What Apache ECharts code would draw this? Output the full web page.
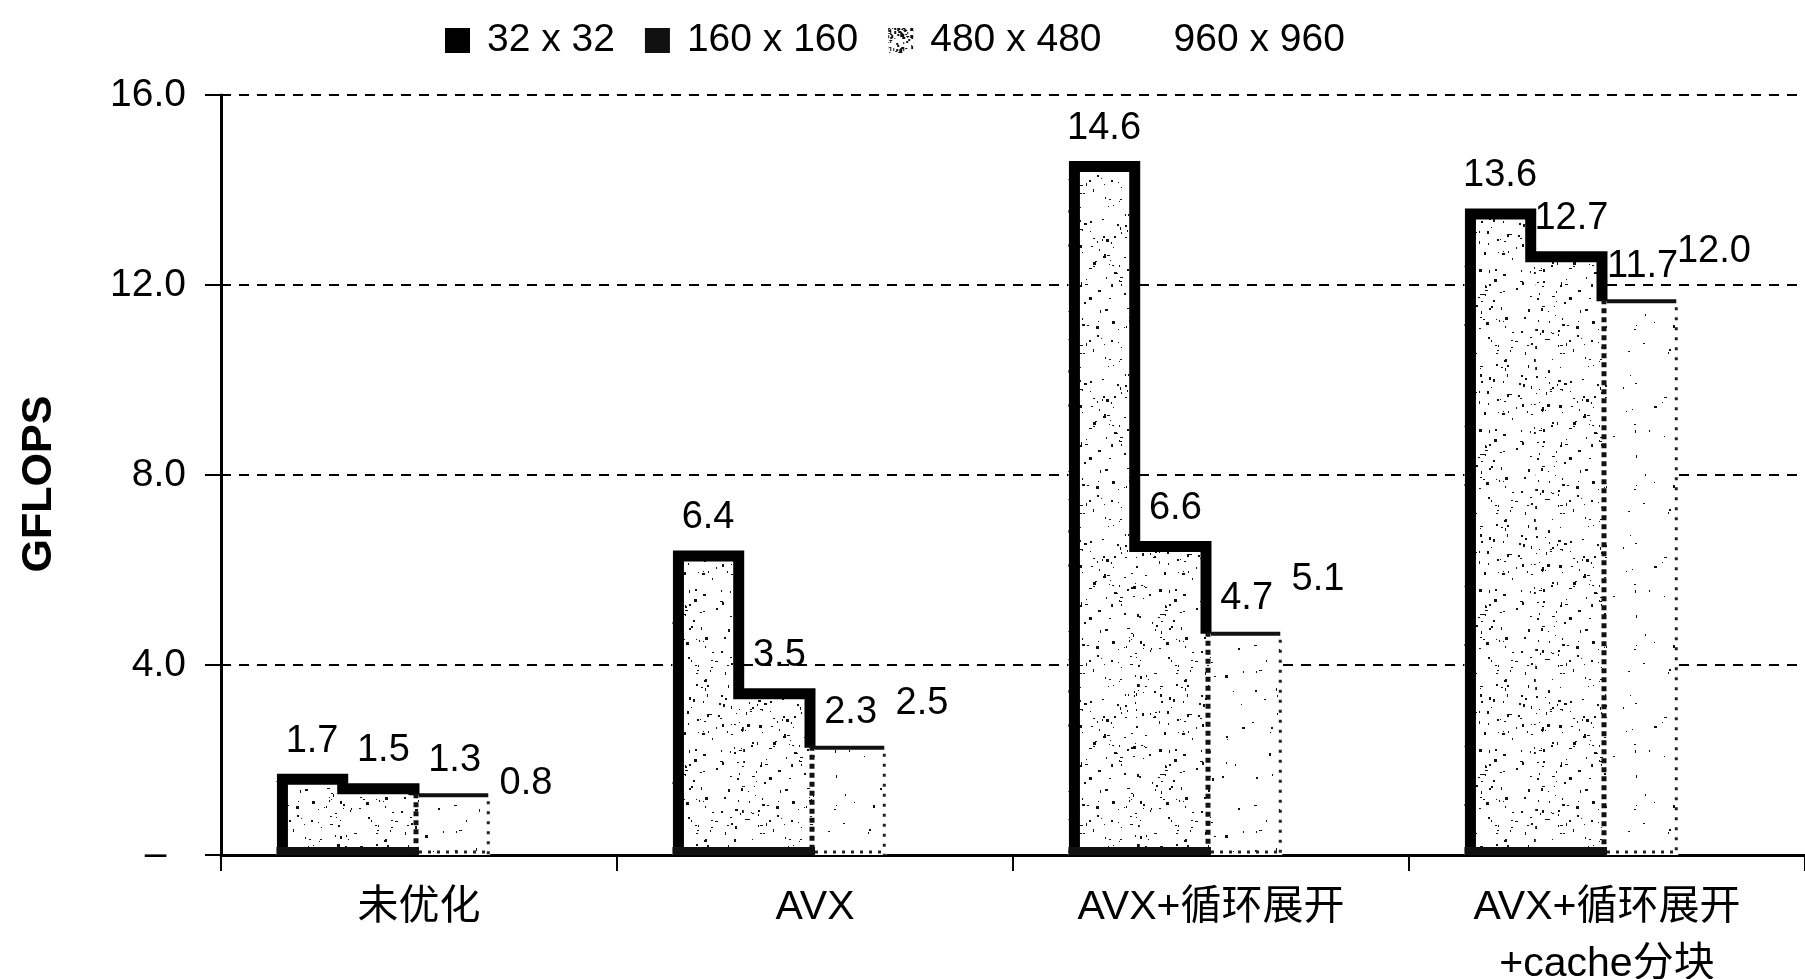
<!DOCTYPE html>
<html>
<head>
<meta charset="utf-8">
<script src="https://cdn.jsdelivr.net/npm/echarts@6/dist/echarts.min.js"></script>
<style>
  html, body { margin: 0; padding: 0; background: #fff; }
  #chart { width: 1805px; height: 979px; }
</style>
</head>
<body>
<div id="chart"></div>
<script>
// Matrix-multiply throughput for each optimisation stage and matrix size
const categories = ['未优化', 'AVX', 'AVX+循环展开', 'AVX+循环展开\n+cache分块'];
const seriesNames = ['32 x 32', '160 x 160', '480 x 480', '960 x 960'];
const gflops32 = [1.7, 6.4, 14.6, 13.6];
const gflops160 = [1.5, 3.5, 6.6, 12.7];
const gflops480 = [1.3, 2.3, 4.7, 11.7];
const gflops960 = [0.8, 2.5, 5.1, 12.0];
const yTicks = [0, 4, 8, 12, 16];

const FONT = '"Liberation Sans", Arial, "Noto Sans CJK SC", sans-serif';
const CAT_GAP = 0.28;        // share of each category left empty around the bars
const BARS_PER_CAT = 4;

// Stipple texture for the bar fills: seeded dot layout so every render is identical
function stipple(size, count, seed) {
  let s = seed;
  const next = () => (s = (s * 1103515245 + 12345) & 0x7fffffff) / 0x7fffffff;
  const c = document.createElement('canvas');
  c.width = size; c.height = size;
  const g = c.getContext('2d');
  g.fillStyle = '#fff';
  g.fillRect(0, 0, size, size);
  g.fillStyle = '#111';
  for (let i = 0; i < count; i++) {
    const x = Math.floor(next() * size);
    const y = Math.floor(next() * size);
    const w = 1 + Math.floor(next() * 2.4);
    const h = 1 + Math.floor(next() * 2.4);
    g.fillRect(x, y, w, h);
  }
  return { image: c, repeat: 'repeat' };
}
const denseFill = stipple(160, 300, 7);
const sparseFill = stipple(160, 55, 19);

const labelStyle = {
  show: true,
  position: 'top',
  distance: 14,
  color: '#000',
  fontFamily: FONT,
  fontSize: 38,
  formatter: p => p.value.toFixed(1)
};

// Rows for the outline layer: [category index, 32, 160, 480]
const outlineRows = categories.map((_, i) => [i, gflops32[i], gflops160[i], gflops480[i]]);

// Heavy step outline around the 32/160 pair and the lighter frame of the 480 bar
function renderOutline(params, api) {
  const i = api.value(0);
  const base = api.coord([i, 0]);
  const catW = api.size([1, 0])[0];
  const barW = catW * (1 - CAT_GAP) / BARS_PER_CAT;
  const left = base[0] - barW * BARS_PER_CAT / 2;
  const x1 = left + barW, x2 = left + 2 * barW, x3 = left + 3 * barW;
  const y0 = base[1];
  const y1 = api.coord([i, api.value(1)])[1];
  const y2 = api.coord([i, api.value(2)])[1];
  const y3 = api.coord([i, api.value(3)])[1];
  const h = 5;
  return {
    type: 'group',
    children: [
      {
        type: 'polyline',
        shape: { points: [[left + 6, y0], [left + 6, y1 + h], [x1 - h, y1 + h], [x1 - h, y2 + h], [x2 - h, y2 + h], [x2 - h, y3 + 2]] },
        style: { stroke: '#000', lineWidth: 11, fill: null, lineJoin: 'miter', lineCap: 'butt' }
      },
      {
        type: 'polyline',
        shape: { points: [[left, y0 - 4], [x2, y0 - 4]] },
        style: { stroke: '#111', lineWidth: 8, fill: null }
      },
      {
        type: 'polyline',
        shape: { points: [[x2 - 3, y3], [x2 - 3, y0]] },
        style: { stroke: '#111', lineWidth: 5, fill: null, lineDash: [5, 4] }
      },
      {
        type: 'polyline',
        shape: { points: [[x2, y3 + 2], [x3 - 2, y3 + 2]] },
        style: { stroke: '#111', lineWidth: 4, fill: null }
      },
      {
        type: 'polyline',
        shape: { points: [[x3 - 2, y3 + 8], [x3 - 2, y0]] },
        style: { stroke: '#222', lineWidth: 3, fill: null, lineDash: [3, 7] }
      },
      {
        type: 'polyline',
        shape: { points: [[x2, y0 - 3], [x3, y0 - 3]] },
        style: { stroke: '#222', lineWidth: 3, fill: null, lineDash: [3, 6] }
      }
    ]
  };
}

const chart = echarts.init(document.getElementById('chart'), null, { renderer: 'canvas' });
chart.setOption({
  backgroundColor: '#fff',
  animation: false,
  textStyle: { fontFamily: FONT },
  legend: {
    left: 440,
    top: 16,
    itemWidth: 25,
    itemHeight: 25,
    itemGap: 30,
    icon: 'rect',
    textStyle: { fontFamily: FONT, fontSize: 39, color: '#000', padding: [0, 0, 0, 12] },
    data: [
      { name: seriesNames[0], itemStyle: { color: '#000', borderWidth: 0 } },
      { name: seriesNames[1], itemStyle: { color: '#111', borderWidth: 0 } },
      { name: seriesNames[2], itemStyle: { color: stipple(25, 70, 3), borderWidth: 0 } },
      { name: seriesNames[3], itemStyle: { color: 'rgba(0,0,0,0)', borderWidth: 0 } }
    ]
  },
  grid: { left: 221, right: 0, top: 95, bottom: 124, containLabel: false, outerBoundsMode: 'none' },
  xAxis: {
    type: 'category',
    data: categories,
    boundaryGap: true,
    axisLine: { show: true, lineStyle: { color: '#000', width: 3 } },
    axisTick: { show: true, length: 16, lineStyle: { color: '#000', width: 2 } },
    axisLabel: {
      color: '#000', fontFamily: FONT, fontSize: 41, margin: 24, lineHeight: 57
    },
    splitLine: { show: false }
  },
  yAxis: [
    {
      type: 'value',
      min: yTicks[0],
      max: yTicks[yTicks.length - 1],
      interval: 4,
      name: 'GFLOPS',
      nameLocation: 'middle',
      nameRotate: 90,
      nameGap: 160,
      nameTextStyle: { fontFamily: FONT, fontSize: 43, fontWeight: 'bold', color: '#000', padding: [0, 18, 0, 0] },
      axisLine: { show: true, lineStyle: { color: '#000', width: 3 } },
      axisTick: { show: true, length: 16, lineStyle: { color: '#000', width: 2 } },
      axisLabel: {
        color: '#000', fontFamily: FONT, fontSize: 39, margin: 35,
        formatter: v => (v === 0 ? '–\u2002' : v.toFixed(1))
      },
      splitLine: { show: true, lineStyle: { color: '#000', width: 2, type: [10, 8] } }
    },
    {
      // inner half of the crossing tick marks
      type: 'value',
      position: 'left',
      min: yTicks[0],
      max: yTicks[yTicks.length - 1],
      interval: 4,
      axisLine: { show: false },
      axisTick: { show: true, inside: true, length: 10, lineStyle: { color: '#000', width: 2 } },
      axisLabel: { show: false },
      splitLine: { show: false }
    }
  ],
  series: [
    {
      name: seriesNames[0], type: 'bar', data: gflops32,
      barGap: '0%', barCategoryGap: (CAT_GAP * 100) + '%',
      itemStyle: { color: denseFill, borderWidth: 0 },
      label: labelStyle, z: 3
    },
    {
      name: seriesNames[1], type: 'bar', data: gflops160,
      itemStyle: { color: denseFill, borderWidth: 0 },
      label: labelStyle, z: 3
    },
    {
      name: seriesNames[2], type: 'bar', data: gflops480,
      itemStyle: { color: sparseFill, borderWidth: 0 },
      label: labelStyle, z: 3
    },
    {
      name: seriesNames[3], type: 'bar', data: gflops960,
      itemStyle: { color: 'rgba(0,0,0,0)', borderWidth: 0 },
      label: labelStyle, z: 3
    },
    {
      name: 'outline', type: 'custom', data: outlineRows,
      renderItem: renderOutline,
      encode: { x: 0, y: 1 },
      silent: true, z: 4
    }
  ]
});
</script>
</body>
</html>
